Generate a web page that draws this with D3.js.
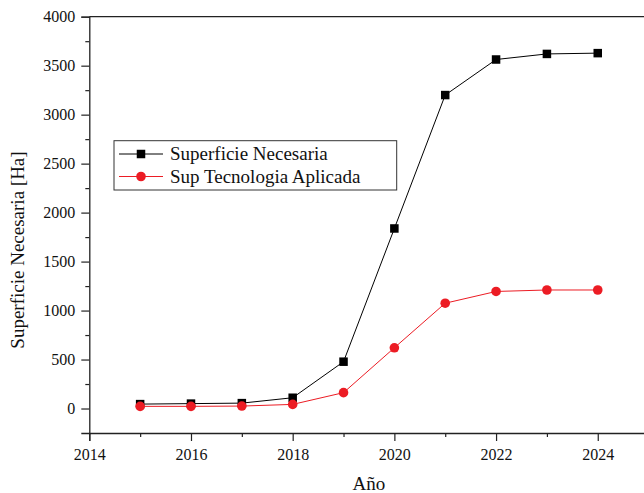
<!DOCTYPE html>
<html>
<head>
<meta charset="utf-8">
<script src="https://cdn.jsdelivr.net/npm/d3@7/dist/d3.min.js"></script>
<style>
  html, body { margin: 0; padding: 0; background: #fff; }
  svg { display: block; }
  text { font-family: "Liberation Serif", "DejaVu Serif", serif; fill: #111; }
</style>
</head>
<body>
<svg id="chart" width="644" height="493"></svg>
<script>
// Years and series values
const years = [2015, 2016, 2017, 2018, 2019, 2020, 2021, 2022, 2023, 2024];
const superficieNecesaria = [45, 50, 55, 110, 478, 1838, 3200, 3563, 3620, 3628];
const supTecnologiaAplicada = [22, 22, 25, 42, 162, 620, 1075, 1195, 1210, 1210];

// Tick values
const xMajorTicks = [2014, 2016, 2018, 2020, 2022, 2024];
const xMinorTicks = [2015, 2017, 2019, 2021, 2023];
const yMajorTicks = [0, 500, 1000, 1500, 2000, 2500, 3000, 3500, 4000];
const yMinorTicks = [250, 750, 1250, 1750, 2250, 2750, 3250, 3750];

const seriesNames = ["Superficie Necesaria", "Sup Tecnologia Aplicada"];
const xTitle = "Año";
const yTitle = "Superficie Necesaria [Ha]";

const serif = '"Liberation Serif", "DejaVu Serif", serif';
const svg = d3.select("#chart").style("font-family", serif);
const plotLeft = 89.3, plotRight = 648.6, plotTop = 16.7, plotBottom = 433;

const x = d3.scaleLinear().domain([2014, 2025]).range([plotLeft, plotRight]);
const y = d3.scaleLinear().domain([-250, 4000]).range([plotBottom, plotTop]);

const axisColor = "#222";

// Top frame line
svg.append("line")
  .attr("x1", plotLeft).attr("x2", plotRight)
  .attr("y1", plotTop).attr("y2", plotTop)
  .attr("stroke", axisColor).attr("stroke-width", 1.3);

// Bottom axis
const gx = svg.append("g").attr("transform", `translate(0,${plotBottom})`);
gx.call(d3.axisBottom(x).tickValues(xMajorTicks).tickFormat(d3.format("d"))
  .tickSize(8).tickPadding(8));
gx.append("g").call(d3.axisBottom(x).tickValues(xMinorTicks).tickFormat("").tickSize(4))
  .select(".domain").remove();

// Left axis
const gy = svg.append("g").attr("transform", `translate(${plotLeft},0)`);
gy.call(d3.axisLeft(y).tickValues(yMajorTicks).tickFormat(d3.format("d"))
  .tickSize(8).tickPadding(6));
gy.append("g").call(d3.axisLeft(y).tickValues(yMinorTicks).tickFormat("").tickSize(4))
  .select(".domain").remove();

svg.selectAll("g").attr("font-family", null);
svg.selectAll(".domain").attr("stroke", axisColor).attr("stroke-width", 1.3);
svg.selectAll(".tick line").attr("stroke", axisColor).attr("stroke-width", 1.2);
svg.selectAll(".tick text")
  .style("font-family", serif)
  .style("font-size", "16px").style("fill", "#111");

// Axis titles
svg.append("text")
  .attr("x", (plotLeft + plotRight) / 2).attr("y", 490)
  .attr("text-anchor", "middle").style("font-size", "19px")
  .text(xTitle);

svg.append("text")
  .attr("transform", `translate(24,${250}) rotate(-90)`)
  .attr("text-anchor", "middle").style("font-size", "19px")
  .text(yTitle);

// Series lines and markers
const line = d3.line().x((d, i) => x(years[i])).y(d => y(d));

svg.append("path").datum(superficieNecesaria)
  .attr("d", line).attr("fill", "none")
  .attr("stroke", "#000").attr("stroke-width", 1);

svg.append("path").datum(supTecnologiaAplicada)
  .attr("d", line).attr("fill", "none")
  .attr("stroke", "#ec1c24").attr("stroke-width", 1);

const sq = 8.5;
svg.append("g").selectAll("rect").data(superficieNecesaria).join("rect")
  .attr("x", (d, i) => x(years[i]) - sq / 2)
  .attr("y", d => y(d) - sq / 2)
  .attr("width", sq).attr("height", sq)
  .attr("fill", "#000");

svg.append("g").selectAll("circle").data(supTecnologiaAplicada).join("circle")
  .attr("cx", (d, i) => x(years[i]))
  .attr("cy", d => y(d))
  .attr("r", 4.8)
  .attr("fill", "#ec1c24");

// Legend
const lg = svg.append("g");
lg.append("rect")
  .attr("x", 114).attr("y", 140.7)
  .attr("width", 282.7).attr("height", 49.3)
  .attr("fill", "#fff").attr("stroke", "#333").attr("stroke-width", 1);

const rows = [
  { name: seriesNames[0], color: "#000", shape: "square", cy: 154 },
  { name: seriesNames[1], color: "#ec1c24", shape: "circle", cy: 176.5 }
];
rows.forEach(r => {
  lg.append("line")
    .attr("x1", 119).attr("x2", 163).attr("y1", r.cy).attr("y2", r.cy)
    .attr("stroke", r.color).attr("stroke-width", 1);
  if (r.shape === "square") {
    lg.append("rect").attr("x", 141 - sq / 2).attr("y", r.cy - sq / 2)
      .attr("width", sq).attr("height", sq).attr("fill", r.color);
  } else {
    lg.append("circle").attr("cx", 141).attr("cy", r.cy).attr("r", 4.8).attr("fill", r.color);
  }
  lg.append("text")
    .attr("x", 170).attr("y", r.cy + 6)
    .style("font-size", "19px")
    .text(r.name);
});
</script>
</body>
</html>
